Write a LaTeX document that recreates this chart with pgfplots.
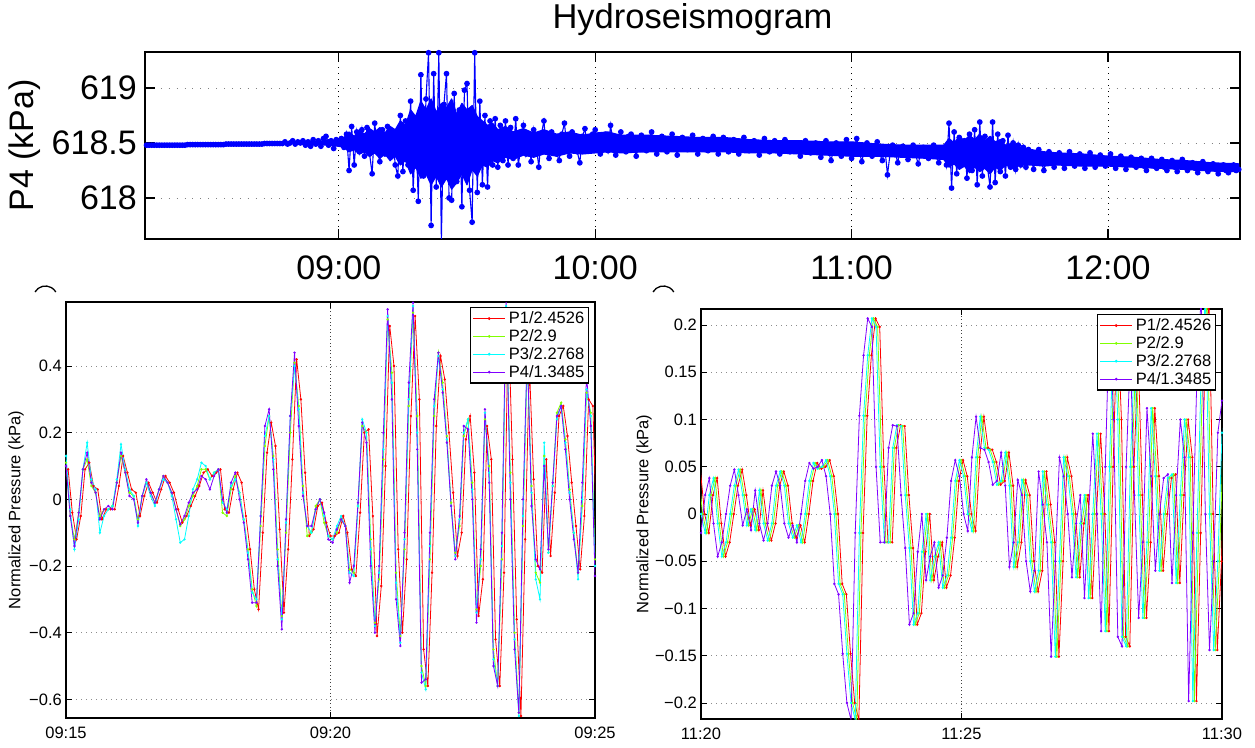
\documentclass[border=0pt]{standalone}
\usepackage{pgfplots}
\pgfplotsset{compat=1.18}
\usepackage{pgfplotstable}
\usepackage{fontspec}
\setmainfont{Liberation Sans}
\definecolor{mred}{rgb}{1,0,0}
\definecolor{mgreen}{rgb}{0.5,1,0}
\definecolor{mcyan}{rgb}{0,1,1}
\definecolor{mpurple}{rgb}{0.5,0,1}

% dense core of the P4 trace: upper edge, then lower edge back
\pgfplotstableread{
t p
8.84 618.505
8.88 618.52
8.92 618.51
8.96 618.53
9.00 618.52
9.02 618.55
9.04 618.60
9.06 618.56
9.08 618.62
9.10 618.58
9.12 618.63
9.14 618.60
9.16 618.64
9.18 618.59
9.20 618.65
9.22 618.62
9.24 618.70
9.26 618.66
9.28 618.80
9.30 618.74
9.32 618.88
9.34 618.80
9.36 618.90
9.38 618.78
9.40 618.86
9.42 618.82
9.44 618.90
9.46 618.76
9.48 618.86
9.50 618.80
9.52 618.84
9.54 618.74
9.56 618.70
9.58 618.66
9.60 618.68
9.62 618.62
9.65 618.65
9.68 618.60
9.72 618.63
9.76 618.59
9.80 618.62
9.85 618.58
9.90 618.60
9.95 618.57
10.00 618.59
10.05 618.60
10.10 618.57
10.20 618.57
10.30 618.56
10.40 618.55
10.50 618.55
10.60 618.53
10.70 618.52
10.80 618.52
10.90 618.51
11.00 618.51
11.10 618.49
11.20 618.48
11.30 618.48
11.36 618.48
11.38 618.54
11.40 618.50
11.42 618.56
11.44 618.52
11.46 618.57
11.48 618.53
11.50 618.58
11.52 618.52
11.54 618.56
11.56 618.51
11.58 618.53
11.60 618.48
11.63 618.50
11.66 618.46
11.70 618.44
11.75 618.42
11.80 618.41
11.90 618.40
12.00 618.38
12.10 618.37
12.20 618.35
12.30 618.34
12.40 618.32
12.51 618.31
12.51 618.24
12.40 618.245
12.30 618.26
12.20 618.27
12.10 618.28
12.00 618.29
11.90 618.29
11.80 618.30
11.75 618.29
11.70 618.30
11.66 618.30
11.63 618.27
11.60 618.30
11.58 618.25
11.56 618.28
11.54 618.22
11.52 618.27
11.50 618.24
11.48 618.28
11.46 618.23
11.44 618.29
11.42 618.26
11.40 618.31
11.38 618.28
11.36 618.35
11.30 618.36
11.20 618.37
11.10 618.38
11.00 618.38
10.90 618.39
10.80 618.40
10.70 618.41
10.60 618.41
10.50 618.42
10.40 618.42
10.30 618.42
10.20 618.42
10.10 618.41
10.05 618.42
10.00 618.41
9.95 618.40
9.90 618.41
9.85 618.38
9.80 618.40
9.76 618.37
9.72 618.39
9.68 618.35
9.65 618.37
9.62 618.32
9.60 618.34
9.58 618.28
9.56 618.30
9.54 618.20
9.52 618.26
9.50 618.12
9.48 618.22
9.46 618.14
9.44 618.08
9.42 618.18
9.40 618.10
9.38 618.20
9.36 618.12
9.34 618.22
9.32 618.18
9.30 618.28
9.28 618.22
9.26 618.34
9.24 618.30
9.22 618.38
9.20 618.34
9.18 618.40
9.16 618.36
9.14 618.41
9.12 618.38
9.10 618.42
9.08 618.40
9.06 618.44
9.04 618.42
9.02 618.46
9.00 618.47
8.96 618.48
8.92 618.485
8.88 618.48
8.84 618.495
}\topband

\pgfplotstableread{
t p
8.24 618.48
8.25 618.48
8.26 618.48
8.27 618.48
8.28 618.48
8.29 618.48
8.30 618.48
8.31 618.48
8.32 618.48
8.33 618.48
8.34 618.48
8.35 618.48
8.36 618.48
8.37 618.48
8.38 618.48
8.39 618.48
8.40 618.48
8.41 618.485
8.42 618.485
8.43 618.485
8.44 618.485
8.45 618.485
8.46 618.485
8.47 618.485
8.48 618.485
8.49 618.485
8.50 618.485
8.51 618.485
8.52 618.485
8.53 618.485
8.54 618.485
8.55 618.485
8.56 618.49
8.57 618.49
8.58 618.49
8.59 618.49
8.60 618.49
8.61 618.49
8.62 618.49
8.63 618.49
8.64 618.49
8.65 618.49
8.66 618.49
8.67 618.49
8.68 618.49
8.69 618.49
8.70 618.49
8.71 618.495
8.72 618.495
8.73 618.495
8.74 618.495
8.75 618.495
8.76 618.495
8.77 618.495
8.78 618.495
8.79 618.51
8.80 618.49
8.81 618.50
8.82 618.52
8.83 618.49
8.84 618.51
8.85 618.50
8.86 618.52
8.87 618.48
8.88 618.51
8.89 618.47
8.90 618.53
8.91 618.49
8.92 618.52
8.93 618.47
8.94 618.54
8.95 618.56
8.96 618.48
8.97 618.52
8.98 618.45
8.99 618.53
9.00 618.49
9.01 618.54
9.02 618.46
9.03 618.58
9.04 618.25
9.05 618.65
9.06 618.30
9.07 618.60
9.08 618.42
9.09 618.62
9.10 618.38
9.11 618.64
9.12 618.40
9.13 618.22
9.14 618.68
9.15 618.45
9.16 618.33
9.17 618.62
9.18 618.40
9.19 618.65
9.20 618.38
9.21 618.58
9.22 618.30
9.23 618.20
9.24 618.75
9.25 618.24
9.26 618.70
9.27 618.30
9.28 618.88
9.29 618.07
9.30 618.62
9.31 617.97
9.32 619.12
9.33 618.20
9.34 618.90
9.35 619.32
9.36 617.75
9.37 619.13
9.38 618.10
9.39 619.32
9.40 617.62
9.41 618.85
9.42 619.13
9.43 618.00
9.44 617.98
9.45 618.95
9.46 618.15
9.47 618.80
9.48 617.92
9.49 618.98
9.50 619.04
9.51 618.07
9.52 617.78
9.53 619.32
9.54 618.05
9.55 618.88
9.56 618.12
9.57 618.75
9.58 618.10
9.59 618.70
9.60 618.30
9.61 618.72
9.62 618.28
9.63 618.66
9.64 618.34
9.65 618.70
9.66 618.30
9.67 618.64
9.68 618.36
9.69 618.72
9.70 618.30
9.71 618.46
9.72 618.66
9.73 618.40
9.74 618.55
9.75 618.33
9.76 618.62
9.77 618.48
9.78 618.28
9.79 618.58
9.80 618.70
9.81 618.42
9.82 618.36
9.83 618.60
9.84 618.50
9.85 618.40
9.86 618.34
9.87 618.58
9.88 618.68
9.89 618.45
9.90 618.38
9.91 618.60
9.92 618.52
9.93 618.42
9.94 618.32
9.95 618.56
9.96 618.63
9.97 618.44
9.98 618.48
9.99 618.58
10.00 618.62
10.01 618.46
10.02 618.40
10.03 618.55
10.04 618.58
10.05 618.43
10.06 618.66
10.07 618.50
10.08 618.39
10.09 618.54
10.10 618.60
10.11 618.45
10.12 618.42
10.13 618.56
10.14 618.58
10.15 618.47
10.16 618.38
10.17 618.52
10.18 618.57
10.19 618.44
10.20 618.43
10.21 618.55
10.22 618.60
10.23 618.46
10.24 618.40
10.25 618.51
10.26 618.56
10.27 618.44
10.28 618.42
10.29 618.53
10.30 618.58
10.31 618.47
10.32 618.39
10.33 618.50
10.34 618.55
10.35 618.45
10.36 618.44
10.37 618.52
10.38 618.57
10.39 618.46
10.40 618.40
10.41 618.50
10.42 618.54
10.43 618.44
10.44 618.43
10.45 618.52
10.46 618.56
10.47 618.45
10.48 618.40
10.49 618.49
10.50 618.55
10.51 618.46
10.52 618.42
10.53 618.50
10.54 618.53
10.55 618.44
10.56 618.40
10.57 618.49
10.58 618.55
10.59 618.45
10.60 618.43
10.61 618.51
10.62 618.52
10.63 618.44
10.64 618.39
10.65 618.48
10.66 618.54
10.67 618.45
10.68 618.42
10.69 618.50
10.70 618.52
10.71 618.44
10.72 618.40
10.73 618.48
10.74 618.53
10.75 618.45
10.76 618.42
10.77 618.49
10.78 618.50
10.79 618.43
10.80 618.38
10.81 618.47
10.82 618.52
10.83 618.44
10.84 618.41
10.85 618.48
10.86 618.50
10.87 618.42
10.88 618.37
10.89 618.46
10.90 618.52
10.91 618.42
10.92 618.34
10.93 618.45
10.94 618.50
10.95 618.43
10.96 618.38
10.97 618.47
10.98 618.53
10.99 618.42
11.00 618.36
11.01 618.46
11.02 618.54
11.03 618.42
11.04 618.33
11.05 618.44
11.06 618.50
11.07 618.41
11.08 618.38
11.09 618.46
11.10 618.51
11.11 618.40
11.12 618.34
11.13 618.45
11.14 618.21
11.15 618.40
11.16 618.48
11.17 618.42
11.18 618.32
11.19 618.44
11.20 618.47
11.21 618.40
11.22 618.35
11.23 618.44
11.24 618.48
11.25 618.39
11.26 618.31
11.27 618.42
11.28 618.46
11.29 618.40
11.30 618.36
11.31 618.43
11.32 618.48
11.33 618.39
11.34 618.32
11.35 618.44
11.36 618.46
11.37 618.30
11.38 618.68
11.39 618.09
11.40 618.60
11.41 618.22
11.42 618.55
11.43 618.30
11.44 618.52
11.45 618.18
11.46 618.58
11.47 618.25
11.48 618.62
11.49 618.12
11.50 618.69
11.51 618.20
11.52 618.56
11.53 618.28
11.54 618.10
11.55 618.69
11.56 618.14
11.57 618.58
11.58 618.24
11.59 618.52
11.60 618.20
11.61 618.57
11.62 618.28
11.63 618.50
11.64 618.26
11.65 618.48
11.66 618.30
11.67 618.46
11.68 618.28
11.69 618.44
11.70 618.36
11.71 618.26
11.72 618.40
11.73 618.44
11.74 618.33
11.75 618.25
11.76 618.36
11.77 618.42
11.78 618.32
11.79 618.28
11.80 618.38
11.81 618.41
11.82 618.33
11.83 618.27
11.84 618.37
11.85 618.42
11.86 618.34
11.87 618.29
11.88 618.36
11.89 618.40
11.90 618.32
11.91 618.27
11.92 618.36
11.93 618.41
11.94 618.33
11.95 618.28
11.96 618.35
11.97 618.39
11.98 618.32
11.99 618.29
12.00 618.36
12.01 618.40
12.02 618.31
12.03 618.27
12.04 618.34
12.05 618.38
12.06 618.31
12.07 618.26
12.08 618.33
12.09 618.37
12.10 618.30
12.11 618.28
12.12 618.33
12.13 618.36
12.14 618.29
12.15 618.25
12.16 618.32
12.17 618.36
12.18 618.29
12.19 618.27
12.20 618.32
12.21 618.35
12.22 618.28
12.23 618.25
12.24 618.31
12.25 618.34
12.26 618.28
12.27 618.24
12.28 618.31
12.29 618.35
12.30 618.28
12.31 618.25
12.32 618.30
12.33 618.32
12.34 618.27
12.35 618.23
12.36 618.29
12.37 618.33
12.38 618.27
12.39 618.24
12.40 618.29
12.41 618.31
12.42 618.26
12.43 618.22
12.44 618.28
12.45 618.30
12.46 618.25
12.47 618.23
12.48 618.27
12.49 618.30
12.50 618.25
12.51 618.26
}\topdata

\pgfplotstableread{
t u p4 p3 p2 p1
14.92 14.96 0.06 0.10 0.07 0.06
15.00 15.04 0.10 0.13 0.11 0.09
15.08 15.12 -0.05 -0.03 -0.05 -0.04
15.16 15.20 -0.14 -0.15 -0.12 -0.12
15.24 15.28 -0.04 -0.06 -0.04 -0.05
15.32 15.36 0.09 0.09 0.09 0.09
15.40 15.44 0.14 0.17 0.12 0.11
15.48 15.52 0.05 0.06 0.04 0.04
15.56 15.60 0.02 0.03 0.02 0.03
15.64 15.68 -0.06 -0.10 -0.05 -0.06
15.72 15.76 -0.03 -0.05 -0.03 -0.03
15.80 15.84 -0.02 -0.03 -0.03 -0.03
15.88 15.92 -0.03 -0.02 -0.02 -0.03
15.96 16.00 0.05 0.06 0.05 0.04
16.04 16.08 0.14 0.165 0.13 0.13
16.12 16.16 0.08 0.09 0.08 0.08
16.20 16.24 0.01 0.03 0.02 0.03
16.28 16.32 0.00 0.01 0.01 0.02
16.36 16.40 -0.07 -0.08 -0.06 -0.05
16.44 16.48 0.01 0.01 0.01 0.01
16.52 16.56 0.06 0.05 0.05 0.05
16.60 16.64 0.02 0.01 0.02 0.02
16.68 16.72 -0.01 -0.02 -0.01 -0.01
16.76 16.80 0.03 0.03 0.03 0.03
16.84 16.88 0.07 0.06 0.07 0.07
16.92 16.96 0.05 0.05 0.05 0.05
17.00 17.04 0.02 0.01 0.02 0.02
17.08 17.12 -0.03 -0.06 -0.03 -0.03
17.16 17.20 -0.075 -0.13 -0.08 -0.07
17.24 17.28 -0.05 -0.12 -0.06 -0.05
17.32 17.36 -0.01 -0.05 -0.02 -0.02
17.40 17.44 0.02 0.03 0.01 0.01
17.48 17.52 0.03 0.06 0.04 0.04
17.56 17.60 0.07 0.11 0.09 0.08
17.64 17.68 0.06 0.10 0.09 0.09
17.72 17.76 0.03 0.06 0.06 0.07
17.80 17.84 0.07 0.08 0.08 0.08
17.88 17.92 0.09 0.09 0.09 0.09
17.96 18.00 0.00 -0.01 -0.04 -0.03
18.04 18.08 -0.04 -0.03 -0.05 -0.04
18.12 18.16 0.05 0.04 0.03 0.03
18.20 18.24 0.08 0.06 0.07 0.08
18.28 18.32 0.00 0.02 0.02 0.05
18.36 18.40 -0.07 -0.06 -0.06 -0.05
18.44 18.48 -0.18 -0.16 -0.15 -0.15
18.52 18.56 -0.31 -0.28 -0.27 -0.27
18.60 18.64 -0.31 -0.30 -0.32 -0.33
18.68 18.72 -0.05 -0.05 -0.08 -0.10
18.76 18.80 0.22 0.19 0.16 0.14
18.84 18.88 0.27 0.25 0.25 0.23
18.92 18.96 0.09 0.12 0.13 0.16
19.00 19.04 -0.20 -0.18 -0.15 -0.09
19.08 19.12 -0.39 -0.36 -0.35 -0.34
19.16 19.20 -0.06 -0.07 -0.10 -0.15
19.24 19.28 0.25 0.25 0.20 0.12
19.32 19.36 0.44 0.40 0.41 0.42
19.40 19.44 0.22 0.27 0.28 0.30
19.48 19.52 0.01 0.02 0.04 0.08
19.56 19.60 -0.08 -0.08 -0.11 -0.11
19.64 19.68 -0.08 -0.10 -0.10 -0.09
19.72 19.76 -0.03 -0.03 -0.02 -0.02
19.80 19.84 0.00 0.00 0.00 -0.01
19.88 19.92 -0.04 -0.05 -0.07 -0.07
19.96 20.00 -0.12 -0.11 -0.11 -0.11
20.04 20.08 -0.13 -0.12 -0.12 -0.11
20.12 20.16 -0.09 -0.08 -0.10 -0.10
20.20 20.24 -0.06 -0.05 -0.06 -0.05
20.28 20.32 -0.08 -0.08 -0.08 -0.10
20.36 20.40 -0.25 -0.22 -0.21 -0.21
20.44 20.48 -0.20 -0.23 -0.22 -0.23
20.52 20.56 -0.01 -0.02 -0.02 -0.04
20.60 20.64 0.23 0.24 0.22 0.20
20.68 20.72 0.17 0.20 0.20 0.21
20.76 20.80 -0.20 -0.15 -0.12 -0.05
20.84 20.88 -0.40 -0.38 -0.37 -0.41
20.92 20.96 -0.20 -0.22 -0.24 -0.26
21.00 21.04 0.20 0.15 0.12 0.10
21.08 21.12 0.57 0.55 0.54 0.52
21.16 21.20 0.30 0.35 0.38 0.40
21.24 21.28 -0.30 -0.25 -0.22 -0.15
21.32 21.36 -0.44 -0.43 -0.41 -0.40
21.40 21.44 -0.10 -0.12 -0.15 -0.18
21.48 21.52 0.35 0.30 0.28 0.25
21.56 21.60 0.59 0.58 0.56 0.55
21.64 21.68 0.15 0.20 0.25 0.30
21.72 21.76 -0.55 -0.52 -0.50 -0.45
21.80 21.84 -0.54 -0.57 -0.56 -0.56
21.88 21.92 -0.10 -0.14 -0.18 -0.22
21.96 22.00 0.30 0.28 0.25 0.22
22.04 22.08 0.44 0.43 0.44 0.43
22.12 22.16 0.32 0.33 0.35 0.36
22.20 22.24 0.17 0.18 0.19 0.20
22.28 22.32 -0.02 -0.02 -0.01 0.02
22.36 22.40 -0.18 -0.17 -0.16 -0.17
22.44 22.48 -0.05 -0.06 -0.08 -0.10
22.52 22.56 0.22 0.20 0.19 0.18
22.60 22.64 0.21 0.24 0.24 0.25
22.68 22.72 0.00 0.03 0.05 0.08
22.76 22.80 -0.37 -0.34 -0.33 -0.35
22.84 22.88 -0.15 -0.18 -0.20 -0.24
22.92 22.96 0.27 0.26 0.24 0.22
23.00 23.04 0.05 0.08 0.10 0.12
23.08 23.12 -0.50 -0.48 -0.45 -0.42
23.16 23.20 -0.56 -0.56 -0.56 -0.56
23.24 23.28 -0.10 -0.14 -0.18 -0.22
23.32 23.36 0.60 0.58 0.56 0.55
23.40 23.44 0.00 0.05 0.08 0.12
23.48 23.52 -0.45 -0.42 -0.40 -0.36
23.56 23.60 -0.64 -0.65 -0.64 -0.65
23.64 23.68 0.00 -0.05 -0.08 -0.12
23.72 23.76 0.45 0.44 0.42 0.40
23.80 23.84 -0.02 0.02 0.04 0.06
23.88 23.92 -0.18 -0.24 -0.22 -0.20
23.96 24.00 -0.21 -0.30 -0.25 -0.22
24.04 24.08 0.10 0.17 0.13 0.12
24.12 24.16 -0.15 -0.16 -0.16 -0.17
24.20 24.24 0.05 0.04 0.04 0.02
24.28 24.32 0.25 0.24 0.26 0.25
24.36 24.40 0.28 0.28 0.29 0.28
24.44 24.48 0.15 0.17 0.18 0.19
24.52 24.56 0.00 0.02 0.03 0.05
24.60 24.64 -0.12 -0.10 -0.10 -0.08
24.68 24.72 -0.22 -0.24 -0.22 -0.21
24.76 24.80 0.05 0.00 -0.02 -0.05
24.84 24.88 0.37 0.33 0.32 0.30
24.92 24.96 0.22 0.25 0.26 0.28
25.00 25.04 -0.23 -0.20 -0.18 -0.15
}\leftdata

\pgfplotstableread{
t a b c y
19.84 19.92 19.95 19.99 0.045
19.92 20.00 20.03 20.07 0.000
20.00 20.08 20.11 20.15 -0.020
20.08 20.16 20.19 20.23 0.020
20.16 20.24 20.27 20.31 0.038
20.24 20.32 20.35 20.39 -0.010
20.32 20.40 20.43 20.47 -0.045
20.40 20.48 20.51 20.55 -0.030
20.48 20.56 20.59 20.63 0.000
20.56 20.64 20.67 20.71 0.030
20.64 20.72 20.75 20.79 0.047
20.72 20.80 20.83 20.87 0.020
20.80 20.88 20.91 20.95 -0.012
20.88 20.96 20.99 21.03 0.005
20.96 21.04 21.07 21.11 -0.017
21.04 21.12 21.15 21.19 0.025
21.12 21.20 21.23 21.27 -0.010
21.20 21.28 21.31 21.35 -0.028
21.28 21.36 21.39 21.43 -0.010
21.36 21.44 21.47 21.51 0.030
21.44 21.52 21.55 21.59 0.045
21.52 21.60 21.63 21.67 0.030
21.60 21.68 21.71 21.75 -0.010
21.68 21.76 21.79 21.83 -0.025
21.76 21.84 21.87 21.91 -0.012
21.84 21.92 21.95 21.99 -0.030
21.92 22.00 22.03 22.07 0.000
22.00 22.08 22.11 22.15 0.035
22.08 22.16 22.19 22.23 0.054
22.16 22.24 22.27 22.31 0.048
22.24 22.32 22.35 22.39 0.050
22.32 22.40 22.43 22.47 0.057
22.40 22.48 22.51 22.55 0.040
22.48 22.56 22.59 22.63 0.000
22.56 22.64 22.67 22.71 -0.074
22.64 22.72 22.75 22.79 -0.085
22.72 22.80 22.83 22.87 -0.148
22.80 22.88 22.91 22.95 -0.200
22.88 22.96 22.99 23.03 -0.218
22.96 23.04 23.07 23.11 -0.020
23.04 23.12 23.15 23.19 0.104
23.12 23.20 23.23 23.27 0.168
23.20 23.28 23.31 23.35 0.207
23.28 23.36 23.39 23.43 0.198
23.36 23.44 23.47 23.51 0.050
23.44 23.52 23.55 23.59 -0.030
23.52 23.60 23.63 23.67 -0.030
23.60 23.68 23.71 23.75 0.070
23.68 23.76 23.79 23.83 0.094
23.76 23.84 23.87 23.91 0.093
23.84 23.92 23.95 23.99 0.020
23.92 24.00 24.03 24.07 -0.036
24.00 24.08 24.11 24.15 -0.117
24.08 24.16 24.19 24.23 -0.105
24.16 24.24 24.27 24.31 -0.040
24.24 24.32 24.35 24.39 0.000
24.32 24.40 24.43 24.47 -0.070
24.40 24.48 24.51 24.55 -0.045
24.48 24.56 24.59 24.63 -0.030
24.56 24.64 24.67 24.71 -0.078
24.64 24.72 24.75 24.79 -0.065
24.72 24.80 24.83 24.87 -0.025
24.80 24.88 24.91 24.95 0.035
24.88 24.96 24.99 25.03 0.057
24.96 25.04 25.07 25.11 0.040
25.04 25.12 25.15 25.19 0.000
25.12 25.20 25.23 25.27 -0.018
25.20 25.28 25.31 25.35 0.060
25.28 25.36 25.39 25.43 0.103
25.36 25.44 25.47 25.51 0.070
25.44 25.52 25.55 25.59 0.068
25.52 25.60 25.63 25.67 0.055
25.60 25.68 25.71 25.75 0.031
25.68 25.76 25.79 25.83 0.035
25.76 25.84 25.87 25.91 0.065
25.84 25.92 25.95 25.99 0.030
25.92 26.00 26.03 26.07 -0.056
26.00 26.08 26.11 26.15 -0.030
26.08 26.16 26.19 26.23 0.036
26.16 26.24 26.27 26.31 0.020
26.24 26.32 26.35 26.39 -0.050
26.32 26.40 26.43 26.47 -0.082
26.40 26.48 26.51 26.55 -0.060
26.48 26.56 26.59 26.63 0.045
26.56 26.64 26.67 26.71 0.010
26.64 26.72 26.75 26.79 -0.030
26.72 26.80 26.83 26.87 -0.151
26.80 26.88 26.91 26.95 -0.050
26.88 26.96 26.99 27.03 0.060
26.96 27.04 27.07 27.11 0.040
27.04 27.12 27.15 27.19 0.000
27.12 27.20 27.23 27.27 -0.067
27.20 27.28 27.31 27.35 -0.010
27.28 27.36 27.39 27.43 0.020
27.36 27.44 27.47 27.51 -0.089
27.44 27.52 27.55 27.59 0.000
27.52 27.60 27.63 27.67 0.085
27.60 27.68 27.71 27.75 0.000
27.68 27.76 27.79 27.83 -0.124
27.76 27.84 27.87 27.91 0.050
27.84 27.92 27.95 27.99 0.210
27.92 28.00 28.03 28.07 0.100
28.00 28.08 28.11 28.15 -0.130
28.08 28.16 28.19 28.23 -0.140
28.16 28.24 28.27 28.31 0.050
28.24 28.32 28.35 28.39 0.170
28.32 28.40 28.43 28.47 0.020
28.40 28.48 28.51 28.55 -0.110
28.48 28.56 28.59 28.63 -0.030
28.56 28.64 28.67 28.71 0.112
28.64 28.72 28.75 28.79 0.040
28.72 28.80 28.83 28.87 -0.060
28.80 28.88 28.91 28.95 0.000
28.88 28.96 28.99 29.03 0.038
28.96 29.04 29.07 29.11 0.042
29.04 29.12 29.15 29.19 -0.073
29.12 29.20 29.23 29.27 0.020
29.20 29.28 29.31 29.35 0.100
29.28 29.36 29.39 29.43 0.060
29.36 29.44 29.47 29.51 -0.198
29.44 29.52 29.55 29.59 -0.020
29.52 29.60 29.63 29.67 0.150
29.60 29.68 29.71 29.75 0.230
29.68 29.76 29.79 29.83 0.000
29.76 29.84 29.87 29.91 -0.144
29.84 29.92 29.95 29.99 -0.050
29.92 30.00 30.03 30.07 0.086
30.00 30.08 30.11 30.15 0.120
}\rightdata

\pgfplotsset{
  bstyle/.style={
    scale only axis, anchor=south west,
    tick align=inside, major tick length=6pt,
    tick style={black, line width=0.8pt},
    axis line style={line width=1.2pt},
    xmajorgrids, ymajorgrids,
    x grid style={black!75, line width=0.7pt, dash pattern=on 0.7pt off 2.8pt},
    y grid style={black!45, line width=0.7pt, dash pattern=on 0.7pt off 4.3pt},
    tick label style={font=\fontsize{16.5}{19}\selectfont},
    /pgf/number format/assume math mode=true,
    xticklabel style={inner sep=0pt, yshift=-9pt},
    yticklabel style={inner sep=0pt, xshift=-4pt},
    ylabel={Normalized Pressure (kPa)},
    legend style={at={(1,1)}, anchor=north east, xshift=-6pt, yshift=-5pt,
      font=\fontsize{16.5}{19}\selectfont, draw=black, fill=white, line width=1.2pt,
      inner sep=2pt, nodes={inner sep=2.2pt}, row sep=0pt, column sep=1pt},
    legend cell align=left,
    legend image code/.code={\draw[mark repeat=2,mark phase=2,#1,line width=1.1pt] plot coordinates {(0pt,0pt) (16pt,0pt) (32pt,0pt)};},
  },
  sline/.style={line width=0.8pt, mark=*, mark size=0.75pt},
}

\begin{document}
\begin{tikzpicture}
\useasboundingbox (0,0) rectangle (1255pt,747pt);

\node[font=\fontsize{34.5}{40}\selectfont, anchor=base] at (692.5pt,718.7pt) {Hydroseismogram};

\begin{axis}[
  scale only axis, anchor=south west, at={(145pt,508pt)},
  width=1095pt, height=187pt,
  xmin=8.244, xmax=12.515, ymin=617.627, ymax=619.327,
  xtick={9,10,11,12}, xticklabels={09:00,10:00,11:00,12:00},
  ytick={618,618.5,619}, yticklabels={618,618.5,619},
  tick align=inside, major tick length=10pt,
  tick style={black, line width=1.2pt},
  axis line style={line width=1.6pt},
  xmajorgrids, ymajorgrids,
  x grid style={black, line width=0.9pt, dash pattern=on 0.9pt off 5pt},
  y grid style={black!50, line width=0.9pt, dash pattern=on 0.9pt off 7pt},
  tick label style={font=\fontsize{34}{40}\selectfont},
  /pgf/number format/assume math mode=true,
  xticklabel style={inner sep=0pt, yshift=-17pt},
  yticklabel style={inner sep=0pt, xshift=-8pt},
  ylabel={P4 (kPa)},
  ylabel style={font=\fontsize{34}{40}\selectfont, at={([xshift=-120pt]axis description cs:0,0.5)}, anchor=center},
]
\addplot[blue, fill=blue, line width=1.2pt, line join=round] table[x=t,y=p]{\topband} -- cycle;
\addplot[blue, line width=1.1pt, mark=*, mark size=2.3pt] table[x=t,y=p]{\topdata};
\end{axis}

\begin{axis}[bstyle, at={(66pt,29pt)}, width=529pt, height=416pt,
  xmin=15, xmax=25, ymin=-0.656, ymax=0.592,
  xtick={15,20,25}, xticklabels={09:15,09:20,09:25},
  ytick={-0.6,-0.4,-0.2,0,0.2,0.4}, yticklabels={−0.6,−0.4,−0.2,0,0.2,0.4},
  ylabel style={font=\fontsize{16.5}{19}\selectfont, at={([xshift=-50pt]axis description cs:0,0.5)}, anchor=center},
]
\addplot[mred, sline] table[x=u,y=p1]{\leftdata};
\addplot[mgreen, sline] table[x=t,y=p2]{\leftdata};
\addplot[mcyan, sline] table[x=t,y=p3]{\leftdata};
\addplot[mpurple, sline] table[x=t,y=p4]{\leftdata};
\legend{P1/2.4526,P2/2.9,P3/2.2768,P4/1.3485}
\end{axis}

\begin{axis}[bstyle, at={(701pt,28pt)}, width=521pt, height=410pt,
  xmin=20, xmax=30, ymin=-0.217, ymax=0.217,
  xtick={20,25,30}, xticklabels={11:20,11:25,11:30},
  ytick={-0.2,-0.15,-0.1,-0.05,0,0.05,0.1,0.15,0.2},
  yticklabels={−0.2,−0.15,−0.1,−0.05,0,0.05,0.1,0.15,0.2},
  ylabel style={font=\fontsize{16.5}{19}\selectfont, at={([xshift=-57pt]axis description cs:0,0.5)}, anchor=center},
]
\addplot[mred, sline] table[x=c,y=y]{\rightdata};
\addplot[mgreen, sline] table[x=b,y=y]{\rightdata};
\addplot[mcyan, sline] table[x=a,y=y]{\rightdata};
\addplot[mpurple, sline] table[x=t,y=y]{\rightdata};
\legend{P1/2.4526,P2/2.9,P3/2.2768,P4/1.3485}
\end{axis}

\draw[line width=1.3pt] (35pt,455pt) arc[start angle=150, end angle=30, radius=12pt];
\draw[line width=1.3pt] (653pt,455pt) arc[start angle=150, end angle=30, radius=12pt];
\end{tikzpicture}
\end{document}
